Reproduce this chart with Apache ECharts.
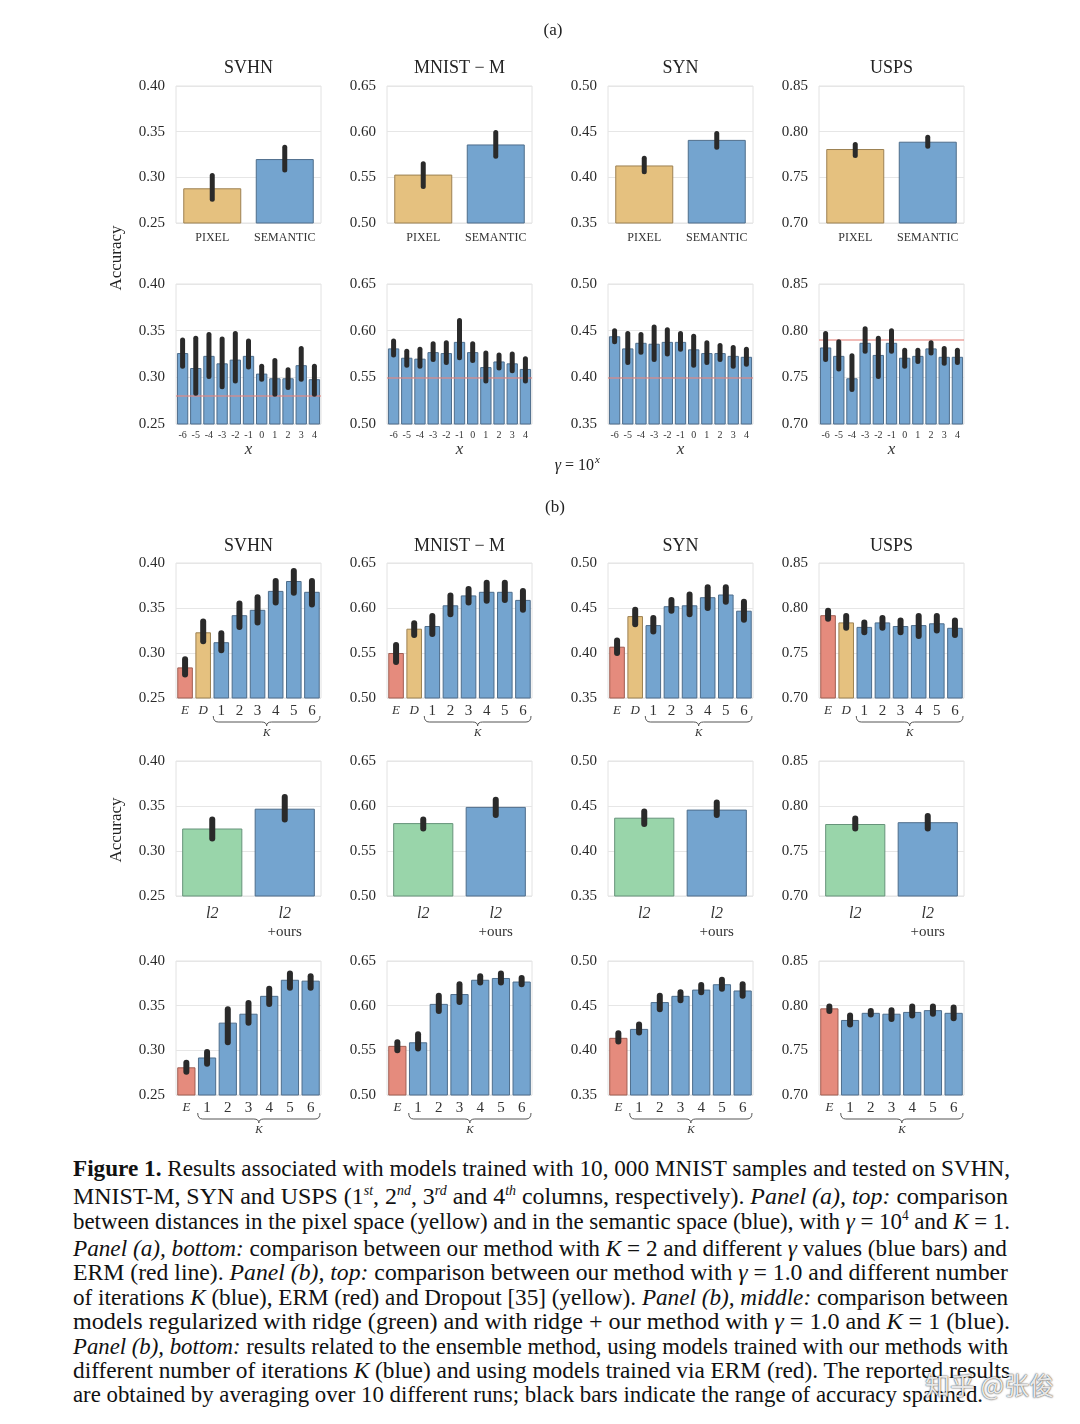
<!DOCTYPE html>
<html><head><meta charset="utf-8">
<script src="https://cdn.jsdelivr.net/npm/echarts@6/dist/echarts.min.js"></script>
<style>
html,body{margin:0;padding:0;background:#fff;width:1080px;height:1424px;overflow:hidden;}
#chart{position:absolute;left:0;top:0;width:1080px;height:1150px;}
.cl{position:absolute;left:73px;white-space:nowrap;font-family:'Liberation Serif','Times New Roman',serif;font-size:24px;line-height:24px;color:#111;transform-origin:0 50%;}
.cl sup{font-size:14px;line-height:0;}
#wm{position:absolute;left:925px;top:1366px;font-family:'Noto Sans CJK SC',sans-serif;font-size:25px;color:rgba(255,255,255,0.9);text-shadow:0 0 2px rgba(0,0,0,0.6),0 0 1px rgba(0,0,0,0.6);}
</style></head>
<body>
<div id="chart"></div>
<div id="caption"></div>
<div id="wm">知乎 @张俊</div>
<script>
// ---------------- DATA ----------------
const datasetNames = ['SVHN', 'MNIST \u2212 M', 'SYN', 'USPS'];
const yMin = [0.25, 0.50, 0.35, 0.70];
const yMax = [0.40, 0.65, 0.50, 0.85];
const yStep = 0.05;

// Panel (a), top: pixel vs semantic
const aTopCats = ['PIXEL', 'SEMANTIC'];
const aTopMean = [[0.288,0.320],[0.553,0.586],[0.413,0.441],[0.781,0.789]];
const aTopLow  = [[0.276,0.308],[0.540,0.573],[0.406,0.433],[0.774,0.784]];
const aTopHigh = [[0.302,0.333],[0.565,0.599],[0.421,0.448],[0.786,0.794]];

// Panel (a), bottom: gamma = 10^x
const aBotCats = ['-6','-5','-4','-3','-2','-1','0','1','2','3','4'];
const aBotMean = [
 [0.326,0.310,0.323,0.315,0.319,0.323,0.304,0.299,0.299,0.313,0.298],
 [0.581,0.571,0.570,0.577,0.576,0.588,0.577,0.561,0.567,0.565,0.559],
 [0.444,0.431,0.437,0.436,0.438,0.438,0.430,0.426,0.426,0.423,0.422],
 [0.782,0.773,0.749,0.787,0.774,0.787,0.771,0.773,0.781,0.772,0.772]];
const aBotLow = [
 [0.312,0.283,0.301,0.290,0.296,0.311,0.298,0.282,0.289,0.298,0.282],
 [0.574,0.563,0.562,0.569,0.566,0.571,0.568,0.546,0.560,0.557,0.546],
 [0.438,0.416,0.427,0.419,0.425,0.430,0.413,0.416,0.419,0.412,0.414],
 [0.769,0.759,0.737,0.778,0.751,0.778,0.762,0.767,0.776,0.765,0.766]];
const aBotHigh = [
 [0.340,0.342,0.346,0.341,0.347,0.339,0.312,0.318,0.308,0.331,0.312],
 [0.589,0.578,0.580,0.586,0.587,0.611,0.586,0.576,0.574,0.575,0.570],
 [0.450,0.447,0.446,0.454,0.451,0.447,0.444,0.437,0.434,0.432,0.430],
 [0.797,0.788,0.773,0.802,0.792,0.800,0.779,0.779,0.787,0.781,0.779]];
const ermLine = [0.281, 0.545, 0.404, 0.789];

// Panel (b), top: ERM, Dropout, K = 1..6
const bTopCats = ['E','D','1','2','3','4','5','6'];
const bTopMean = [
 [0.284,0.323,0.312,0.342,0.348,0.369,0.380,0.368],
 [0.550,0.577,0.580,0.603,0.614,0.618,0.618,0.609],
 [0.407,0.441,0.431,0.452,0.453,0.462,0.465,0.447],
 [0.792,0.784,0.779,0.784,0.780,0.781,0.783,0.778]];
const bTopLow = [
 [0.276,0.313,0.303,0.329,0.334,0.356,0.367,0.354],
 [0.540,0.570,0.571,0.593,0.606,0.608,0.609,0.598],
 [0.400,0.432,0.424,0.447,0.443,0.450,0.457,0.437],
 [0.788,0.778,0.773,0.778,0.773,0.769,0.775,0.770]];
const bTopHigh = [
 [0.293,0.335,0.322,0.355,0.362,0.380,0.391,0.380],
 [0.559,0.583,0.591,0.614,0.621,0.628,0.628,0.619],
 [0.414,0.448,0.439,0.459,0.465,0.473,0.473,0.457],
 [0.797,0.791,0.784,0.789,0.786,0.791,0.791,0.786]];

// Panel (b), middle: l2 vs l2 + ours
const bMidCats = ['l2','l2 +ours'];
const bMidMean = [[0.325,0.347],[0.581,0.599],[0.437,0.446],[0.780,0.782]];
const bMidLow  = [[0.314,0.335],[0.575,0.590],[0.430,0.440],[0.775,0.775]];
const bMidHigh = [[0.335,0.360],[0.585,0.607],[0.444,0.454],[0.786,0.789]];

// Panel (b), bottom: ensemble
const bBotCats = ['E','1','2','3','4','5','6'];
const bBotMean = [
 [0.281,0.292,0.331,0.341,0.361,0.379,0.378],
 [0.555,0.559,0.602,0.613,0.629,0.631,0.627],
 [0.414,0.424,0.454,0.461,0.468,0.474,0.467],
 [0.797,0.784,0.792,0.791,0.793,0.795,0.792]];
const bBotLow = [
 [0.276,0.285,0.309,0.331,0.352,0.370,0.370],
 [0.550,0.552,0.594,0.604,0.626,0.626,0.624],
 [0.410,0.420,0.446,0.456,0.465,0.469,0.461],
 [0.794,0.779,0.790,0.785,0.789,0.791,0.786]];
const bBotHigh = [
 [0.286,0.298,0.346,0.353,0.369,0.386,0.383],
 [0.559,0.568,0.611,0.624,0.633,0.636,0.631],
 [0.419,0.429,0.461,0.465,0.473,0.479,0.474],
 [0.799,0.789,0.794,0.795,0.799,0.799,0.798]];

// ---------------- STYLE / LAYOUT ----------------
const FONT = "'Liberation Serif','DejaVu Serif',serif";
const FILL = {b:'#74a4cf', y:'#e5c17f', r:'#e58b7d', g:'#99d5aa'};
const EDGE = {b:'#4e6d8b', y:'#9c8152', r:'#a05e53', g:'#66937a'};
const colLeft = [176, 387, 608, 819];
const colW = 145;

const grids = [], xAxes = [], yAxes = [], series = [];

function addPanel(p) {
  const gi = grids.length;
  grids.push({left: colLeft[p.col], top: p.top, width: colW, height: p.height, show: true,
    borderColor: '#e2e2e2', borderWidth: 1, backgroundColor: 'transparent', containLabel: false, outerBoundsMode: 'none'});
  xAxes.push({type: 'category', gridIndex: gi, data: p.cats,
    axisLine: {show: false}, axisTick: {show: false}, splitLine: {show: false},
    axisLabel: Object.assign({interval: 0, fontFamily: FONT, color: '#333', margin: p.margin, fontSize: p.fs}, p.label || {}),
    name: p.xName || '', nameLocation: 'middle', nameGap: p.nameGap || 18,
    nameTextStyle: {fontFamily: FONT, fontStyle: 'italic', fontSize: 17, color: '#333'}});
  yAxes.push({type: 'value', gridIndex: gi, min: yMin[p.col], max: yMax[p.col], interval: yStep,
    axisLine: {show: false}, axisTick: {show: false},
    splitLine: {show: true, lineStyle: {color: '#e6e6e6', width: 1}},
    axisLabel: {formatter: v => v.toFixed(2), fontFamily: FONT, fontSize: 15, color: '#2a2a2a', margin: 11}});
  const bar = {type: 'bar', xAxisIndex: gi, yAxisIndex: gi, barCategoryGap: p.gap, animation: false,
    data: p.mean.map((v, i) => ({value: v, itemStyle: {color: FILL[p.colors[i]], borderColor: EDGE[p.colors[i]], borderWidth: 1}}))};
  if (p.erm != null) {
    bar.markLine = {symbol: 'none', silent: true, animation: false, label: {show: false},
      lineStyle: {color: '#e5857f', width: 1.6, type: 'solid', opacity: 0.75},
      data: [{yAxis: p.erm}]};
  }
  series.push(bar);
  series.push({type: 'custom', xAxisIndex: gi, yAxisIndex: gi, z: 5, animation: false,
    data: p.cats.map((c, i) => [i, p.low[i], p.high[i]]),
    encode: {x: 0, y: [1, 2]},
    renderItem: function (params, api) {
      const x = api.value(0);
      const a = api.coord([x, api.value(1)]);
      const b = api.coord([x, api.value(2)]);
      return {type: 'line', shape: {x1: a[0], y1: a[1], x2: b[0], y2: b[1]},
        style: {stroke: '#2a2a2a', lineWidth: p.ebw, lineCap: 'round'}};
    }});
  return gi;
}

const bTopGrids = [], bBotGrids = [];
for (let c = 0; c < 4; c++) {
  addPanel({col: c, top: 86, height: 137, cats: aTopCats, mean: aTopMean[c], low: aTopLow[c], high: aTopHigh[c],
    colors: ['y', 'b'], gap: '20%', margin: 9, fs: 12, ebw: 5});
  addPanel({col: c, top: 284, height: 140, cats: aBotCats, mean: aBotMean[c], low: aBotLow[c], high: aBotHigh[c],
    colors: aBotCats.map(() => 'b'), gap: '14%', margin: 6, fs: 10, ebw: 5, erm: ermLine[c],
    xName: 'x', nameGap: 16});
  bTopGrids.push(addPanel({col: c, top: 563, height: 135, cats: bTopCats, mean: bTopMean[c], low: bTopLow[c], high: bTopHigh[c],
    colors: ['r', 'y', 'b', 'b', 'b', 'b', 'b', 'b'], gap: '14%', margin: 6, fs: 15, ebw: 6,
    label: {formatter: v => (v === 'E' || v === 'D') ? '{i|' + v + '}' : v,
      rich: {i: {fontStyle: 'italic', fontSize: 13, fontFamily: FONT, color: '#333'}}}}));
  addPanel({col: c, top: 761, height: 135, cats: bMidCats, mean: bMidMean[c], low: bMidLow[c], high: bMidHigh[c],
    colors: ['g', 'b'], gap: '17%', margin: 9, fs: 15, ebw: 6,
    label: {lineHeight: 18, formatter: (v, i) => i === 0 ? '{i|l2}' : '{i|l2}\n+ours',
      rich: {i: {fontStyle: 'italic', fontSize: 16, fontFamily: FONT, color: '#333', lineHeight: 18}}}});
  bBotGrids.push(addPanel({col: c, top: 961, height: 134, cats: bBotCats, mean: bBotMean[c], low: bBotLow[c], high: bBotHigh[c],
    colors: ['r', 'b', 'b', 'b', 'b', 'b', 'b'], gap: '12%', margin: 6, fs: 15, ebw: 6,
    label: {formatter: v => v === 'E' ? '{i|' + v + '}' : v,
      rich: {i: {fontStyle: 'italic', fontSize: 13, fontFamily: FONT, color: '#333'}}}}));
}

const chart = echarts.init(document.getElementById('chart'), null, {renderer: 'canvas'});
chart.setOption({animation: false, backgroundColor: '#fff', grid: grids, xAxis: xAxes, yAxis: yAxes, series: series});

// ---------------- CAPTION ----------------
const capLines = [
  ['<b>Figure 1.</b> Results associated with models trained with 10, 000 MNIST samples and tested on SVHN,', 1168, 937],
  ['MNIST-M, SYN and USPS (1<sup><i>st</i></sup>, 2<sup><i>nd</i></sup>, 3<sup><i>rd</i></sup> and 4<sup><i>th</i></sup> columns, respectively). <i>Panel (a), top:</i> comparison', 1196, 935],
  ['between distances in the pixel space (yellow) and in the semantic space (blue), with <i>\u03b3</i> = 10<sup>4</sup> and <i>K</i> = 1.', 1221, 937],
  ['<i>Panel (a), bottom:</i> comparison between our method with <i>K</i> = 2 and different <i>\u03b3</i> values (blue bars) and', 1248, 934],
  ['ERM (red line). <i>Panel (b), top:</i> comparison between our method with <i>\u03b3</i> = 1.0 and different number', 1272, 935],
  ['of iterations <i>K</i> (blue), ERM (red) and Dropout [35] (yellow). <i>Panel (b), middle:</i> comparison between', 1297, 935],
  ['models regularized with ridge (green) and with ridge + our method with <i>\u03b3</i> = 1.0 and <i>K</i> = 1 (blue).', 1321, 937],
  ['<i>Panel (b), bottom:</i> results related to the ensemble method, using models trained with our methods with', 1346, 935],
  ['different number of iterations <i>K</i> (blue) and using models trained via ERM (red). The reported results', 1370, 937],
  ['are obtained by averaging over 10 different runs; black bars indicate the range of accuracy spanned.', 1394, 910]
];
const cap = document.getElementById('caption');
capLines.forEach(([html, cy, w]) => {
  const d = document.createElement('div');
  d.className = 'cl';
  d.innerHTML = html;
  d.style.top = (cy - 12) + 'px';
  cap.appendChild(d);
  const nat = d.getBoundingClientRect().width;
  d.style.transform = 'scaleX(' + (w / nat).toFixed(4) + ')';
});

// ---------------- ANNOTATIONS ----------------
const gr = [];
function txt(x, y, text, extra) {
  const el = {type: 'text', x: x, y: y, silent: true,
    style: Object.assign({text: text, fontFamily: FONT, fontSize: 17, fill: '#222', align: 'center', verticalAlign: 'middle'}, (extra && extra.style) || {})};
  if (extra && extra.rotation) el.rotation = extra.rotation;
  gr.push(el);
}
txt(553, 31, '(a)');
txt(555, 508, '(b)');
for (let c = 0; c < 4; c++) {
  const cx = colLeft[c] + colW / 2;
  txt(cx, 68, datasetNames[c], {style: {fontSize: 18}});
  txt(cx, 546, datasetNames[c], {style: {fontSize: 18}});
}
txt(117, 258, 'Accuracy', {rotation: Math.PI / 2, style: {fontSize: 17}});
txt(117, 830, 'Accuracy', {rotation: Math.PI / 2, style: {fontSize: 17}});
gr.push({type: 'text', x: 594, y: 466, silent: true,
  style: {text: '{i|\u03b3} = 10', fontFamily: FONT, fontSize: 16, fill: '#222', align: 'right', verticalAlign: 'middle',
    rich: {i: {fontStyle: 'italic', fontFamily: FONT, fontSize: 16, fill: '#222'}}}});
gr.push({type: 'text', x: 595, y: 460, silent: true,
  style: {text: 'x', fontFamily: FONT, fontStyle: 'italic', fontSize: 11, fill: '#222', align: 'left', verticalAlign: 'middle'}});

const BRACE_STYLE = {stroke: '#555', fill: null, lineWidth: 1};
function curve(xa, ya, xb, yb, cx, cy) {
  gr.push({type: 'bezierCurve', silent: true, shape: {x1: xa, y1: ya, x2: xb, y2: yb, cpx1: cx, cpy1: cy}, style: BRACE_STYLE});
}
function seg(xa, ya, xb, yb) {
  gr.push({type: 'line', silent: true, shape: {x1: xa, y1: ya, x2: xb, y2: yb}, style: BRACE_STYLE});
}
function brace(gi, iStart, iEnd) {
  const c0 = chart.convertToPixel({xAxisIndex: gi}, iStart);
  const c1 = chart.convertToPixel({xAxisIndex: gi}, iStart + 1);
  const cE = chart.convertToPixel({xAxisIndex: gi}, iEnd);
  const bw = c1 - c0;
  const yb = chart.convertToPixel({yAxisIndex: gi}, yAxes[gi].min);
  const x1 = c0 - bw / 2 + 1, x2 = cE + bw / 2 - 1, xm = (x1 + x2) / 2;
  const y0 = yb + 18, y1 = yb + 24, y2 = yb + 28;
  curve(x1, y0, x1 + 5, y1, x1, y1);
  seg(x1 + 5, y1, xm - 5, y1);
  curve(xm - 5, y1, xm, y2, xm, y1);
  curve(xm + 5, y1, xm, y2, xm, y1);
  seg(xm + 5, y1, x2 - 5, y1);
  curve(x2 - 5, y1, x2, y0, x2, y1);
  gr.push({type: 'text', x: xm, y: yb + 35, silent: true,
    style: {text: 'K', fontFamily: FONT, fontStyle: 'italic', fontSize: 11, fill: '#333', align: 'center', verticalAlign: 'middle'}});
}
bTopGrids.forEach(gi => brace(gi, 2, 7));
bBotGrids.forEach(gi => brace(gi, 1, 6));
chart.setOption({graphic: {elements: gr}});
</script>
</body></html>
